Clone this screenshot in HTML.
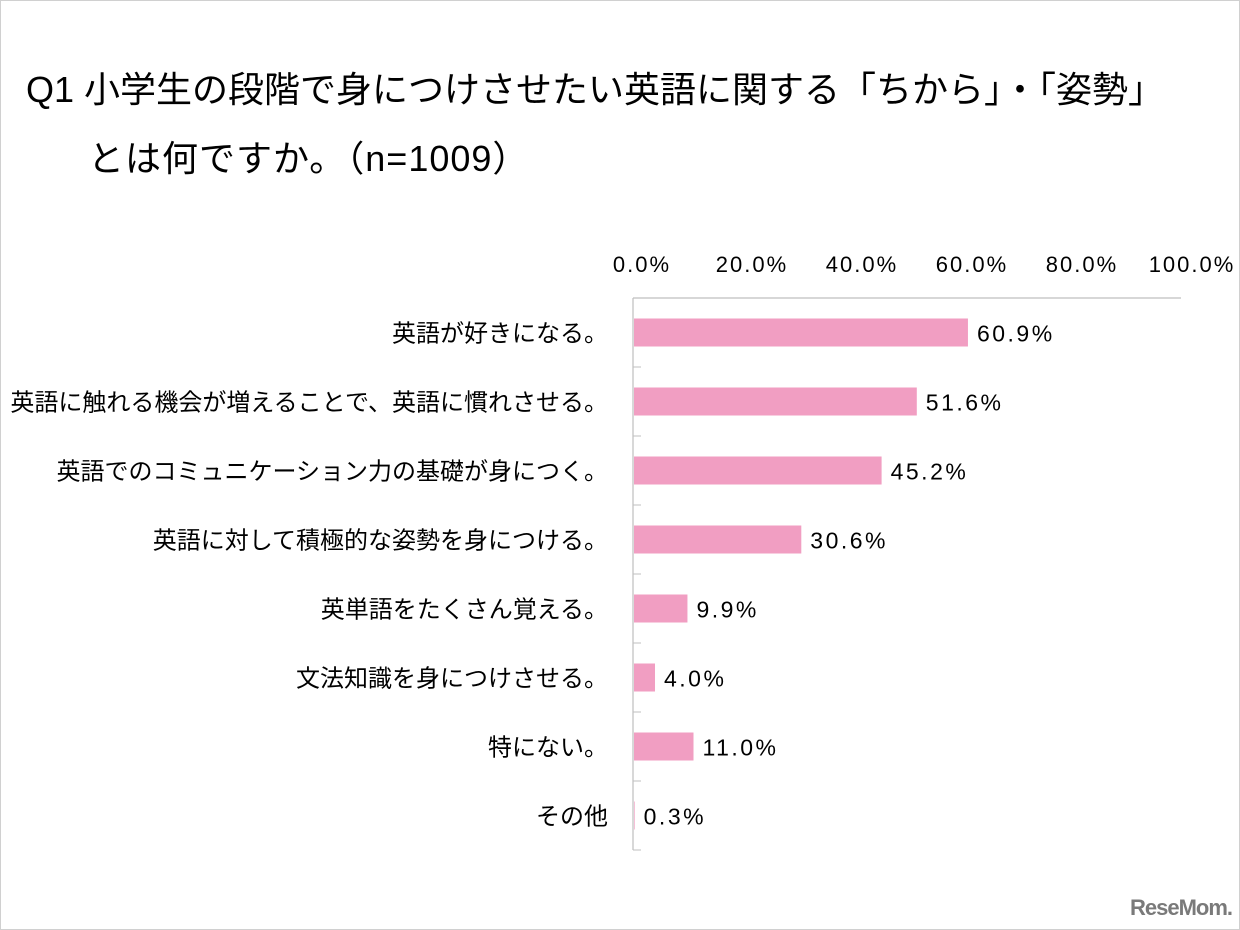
<!DOCTYPE html>
<html><head><meta charset="utf-8"><style>
body{margin:0;width:1240px;height:930px;background:#fff;overflow:hidden;font-family:"Liberation Sans","Noto Sans CJK JP",sans-serif}
#frame{position:absolute;left:0;top:0;width:1238px;height:928px;border:1px solid #d0d0d0}
.t{position:absolute;color:#000;font-size:36px;white-space:nowrap;line-height:1}
svg text{font-family:"Liberation Sans","Noto Sans CJK JP",sans-serif}
</style></head><body>
<div id="frame"></div>
<div class="t" style="left:26px;top:72px">Q1 小学生の段階で身につけさせたい英語に関する「ちから」・「姿勢」</div>
<div class="t" style="left:88px;top:141px;letter-spacing:1px">とは何ですか。（n=1009）</div>
<svg id="chart" width="1240" height="930" style="position:absolute;left:0;top:0"></svg>
<div style="position:absolute;left:1130px;top:895px;font:bold 22px 'Liberation Sans',sans-serif;color:#7a7a7a;letter-spacing:-1px">ReseMom.</div>
<script>
const categories=["英語が好きになる。","英語に触れる機会が増えることで、英語に慣れさせる。","英語でのコミュニケーション力の基礎が身につく。","英語に対して積極的な姿勢を身につける。","英単語をたくさん覚える。","文法知識を身につけさせる。","特にない。","その他"];
const values=[60.9,51.6,45.2,30.6,9.9,4.0,11.0,0.3];
const ticks=[0,20,40,60,80,100];
const ns="http://www.w3.org/2000/svg";
const svgEl=document.getElementById('chart');
const x0=633,pxPer=5.5,plotTop=298,rowH=69,barH=28;
const xs=v=>x0+v*pxPer;
const yc=i=>plotTop+rowH*i+rowH/2;
function mk(t,a){const e=document.createElementNS(ns,t);for(const k in a)e.setAttribute(k,a[k]);svgEl.appendChild(e);return e;}
ticks.forEach(t=>{const e=mk('text',{x:xs(t)+9,y:272,'text-anchor':'middle','font-size':22,'letter-spacing':2,fill:'#000'});e.textContent=t.toFixed(1)+'%';

});
let ax=mk('line',{x1:x0,y1:plotTop,x2:1181,y2:plotTop,stroke:'#bfbfbf','stroke-width':1.2});


let ay=mk('line',{x1:x0,y1:plotTop,x2:x0,y2:plotTop+rowH*categories.length,stroke:'#bfbfbf','stroke-width':1.2});


for(let i=0;i<=categories.length;i++){const tk=mk('line',{x1:x0,y1:plotTop+rowH*i,x2:x0+8,y2:plotTop+rowH*i,stroke:'#bfbfbf','stroke-width':1});

}
categories.forEach((c,i)=>{
const l=mk('text',{x:608,y:yc(i)+9,'text-anchor':'end','font-size':24,fill:'#000'});l.textContent=c;


const b=mk('rect',{x:x0+1,y:yc(i)-barH/2,width:Math.max(0,xs(values[i])-x0-1),height:barH,fill:'#f19ec2'});


const v=mk('text',{x:xs(values[i])+9,y:yc(i)+9,'font-size':23,'letter-spacing':2.5,fill:'#000'});v.textContent=values[i].toFixed(1)+'%';


});
</script>
</body></html>
